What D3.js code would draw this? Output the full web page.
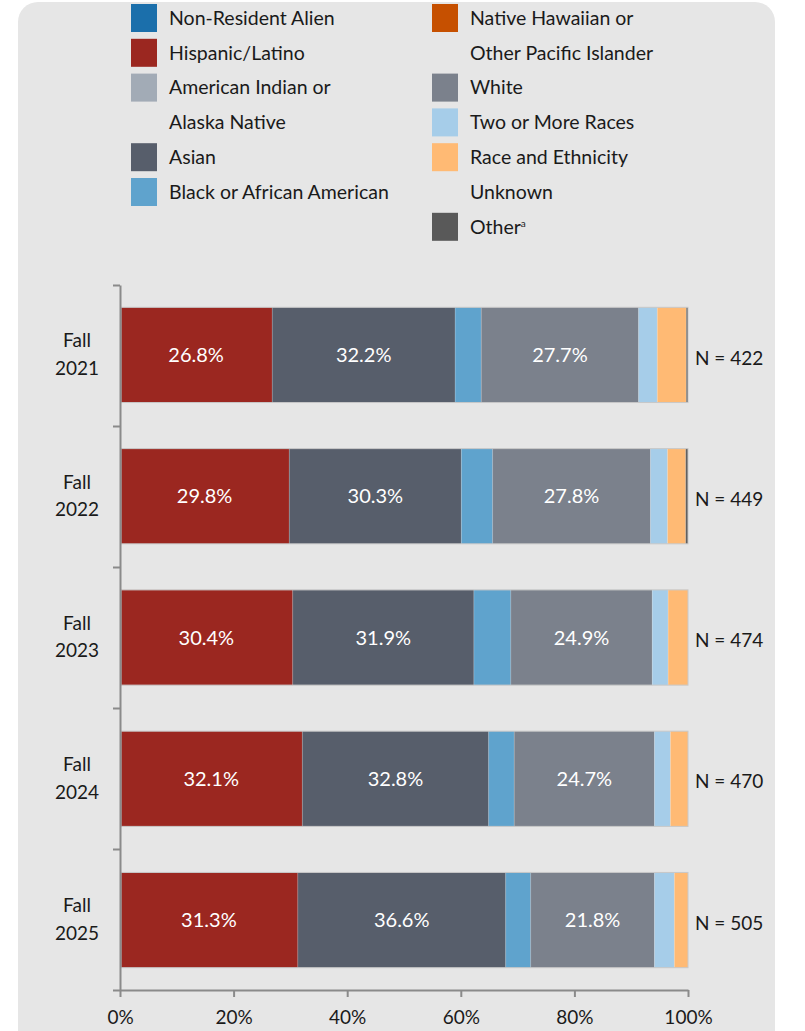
<!DOCTYPE html>
<html>
<head>
<meta charset="utf-8">
<script src="https://cdn.jsdelivr.net/npm/d3@7"></script>
<style>
  html, body { margin: 0; padding: 0; background: #ffffff; }
  svg { display: block; }
  text { font-family: Lato, "Noto Sans", sans-serif; }
</style>
</head>
<body>
<svg id="chart" width="805" height="1031"></svg>
<script>
// ---------- data ----------
const categories = ["Fall 2021", "Fall 2022", "Fall 2023", "Fall 2024", "Fall 2025"];
const nCounts = [422, 449, 474, 470, 505];

const seriesNames = [
  "Non-Resident Alien", "Hispanic/Latino", "American Indian or Alaska Native", "Asian",
  "Black or African American", "Native Hawaiian or Other Pacific Islander", "White",
  "Two or More Races", "Race and Ethnicity Unknown", "Other"
];
const legendLabels = [
  ["Non-Resident Alien"], ["Hispanic/Latino"], ["American Indian or", "Alaska Native"], ["Asian"],
  ["Black or African American"], ["Native Hawaiian or", "Other Pacific Islander"], ["White"],
  ["Two or More Races"], ["Race and Ethnicity", "Unknown"], ["Other"]
];
const seriesColors = [
  "#1b6fab", "#9b2720", "#a2abb6", "#575e6b", "#5fa3cd",
  "#c65000", "#7b818c", "#a6cde9", "#ffba74", "#595959"
];

const nonResident    = [0, 0, 0, 0, 0];
const hispanic       = [26.8, 29.8, 30.4, 32.1, 31.3];
const amIndian       = [0, 0, 0, 0, 0];
const asian          = [32.2, 30.3, 31.9, 32.8, 36.6];
const black          = [4.6, 5.5, 6.5, 4.5, 4.4];
const nativeHawaiian = [0, 0, 0, 0, 0];
const white          = [27.7, 27.8, 24.9, 24.7, 21.8];
const twoOrMore      = [3.3, 3.0, 2.8, 2.8, 3.5];
const unknownRace    = [5.1, 3.2, 3.5, 3.1, 2.4];
const other          = [0.3, 0.4, 0, 0, 0];

const seriesValues = [nonResident, hispanic, amIndian, asian, black,
  nativeHawaiian, white, twoOrMore, unknownRace, other];

const xTicks = [0, 20, 40, 60, 80, 100];

// ---------- build table ----------
const keys = seriesNames;
const table = categories.map((c, i) => {
  const row = { category: c, n: nCounts[i] };
  keys.forEach((k, j) => { row[k] = seriesValues[j][i]; });
  return row;
});
const stacked = d3.stack().keys(keys)(table);

// ---------- layout ----------
const svg = d3.select("#chart");
const FONT = "Lato, 'Noto Sans', sans-serif";

svg.append("rect")
  .attr("x", 18).attr("y", 2)
  .attr("width", 757).attr("height", 1080)
  .attr("rx", 20).attr("ry", 20)
  .attr("fill", "#e6e6e6");

const x = d3.scaleLinear().domain([0, 100]).range([120, 688]);
const y = d3.scaleBand().domain(categories).range([285, 990])
  .paddingInner(0.326).paddingOuter(0.158);

const color = d3.scaleOrdinal().domain(keys).range(seriesColors);
const bx = v => Math.max(x(v), x(0) + 1);

// bars
const layer = svg.append("g").selectAll("g")
  .data(stacked).join("g")
  .attr("fill", d => color(d.key));

layer.selectAll("rect")
  .data(d => d.map(v => Object.assign({}, v, { key: d.key })))
  .join("rect")
  .attr("x", d => bx(d[0]))
  .attr("y", d => y(d.data.category))
  .attr("width", d => Math.max(0, bx(d[1]) - bx(d[0])))
  .attr("height", y.bandwidth());

// segment separators
layer.selectAll("line.sep")
  .data(d => d.filter(v => v[1] - v[0] > 0 && v[0] > 0))
  .join("line")
  .attr("class", "sep")
  .attr("x1", d => x(d[0])).attr("x2", d => x(d[0]))
  .attr("y1", d => y(d.data.category))
  .attr("y2", d => y(d.data.category) + y.bandwidth())
  .attr("stroke", "#ffffff").attr("stroke-opacity", 0.25).attr("stroke-width", 0.8);

svg.append("g").selectAll("rect")
  .data(table).join("rect")
  .attr("x", x(0) + 1)
  .attr("y", d => y(d.category))
  .attr("width", x(100) - x(0) - 1)
  .attr("height", y.bandwidth())
  .attr("fill", "none")
  .attr("stroke", "#c8c8c8")
  .attr("stroke-width", 1);

// value labels
const labelKeys = ["Hispanic/Latino", "Asian", "White"];
svg.append("g").selectAll("text")
  .data(stacked.filter(s => labelKeys.includes(s.key)).flatMap(s => s))
  .join("text")
  .attr("x", d => (x(d[0]) + x(d[1])) / 2)
  .attr("y", d => y(d.data.category) + y.bandwidth() / 2)
  .attr("dy", "0.35em")
  .attr("text-anchor", "middle")
  .attr("fill", "#ffffff")
  .attr("font-size", 20)
  .text(d => (d[1] - d[0]).toFixed(1) + "%");

// N labels
svg.append("g").selectAll("text")
  .data(table).join("text")
  .attr("x", 695)
  .attr("y", d => y(d.category) + y.bandwidth() / 2 + 3)
  .attr("dy", "0.35em")
  .attr("fill", "#1a1a1a")
  .attr("font-size", 19)
  .text(d => "N = " + d.n);

// category labels (two lines)
const catG = svg.append("g").selectAll("text")
  .data(categories).join("text")
  .attr("x", 77)
  .attr("y", d => y(d) + y.bandwidth() / 2)
  .attr("text-anchor", "middle")
  .attr("fill", "#1a1a1a")
  .attr("font-size", 19);
catG.append("tspan").attr("x", 77).attr("dy", "-0.4em").text(d => d.split(" ")[0]);
catG.append("tspan").attr("x", 77).attr("dy", "1.45em").text(d => d.split(" ")[1]);

// y axis (category boundaries)
const yb = d3.scaleLinear().domain([0, categories.length]).range([285, 990]);
const yAxis = svg.append("g")
  .attr("transform", "translate(120,0)")
  .call(d3.axisLeft(yb).ticks(categories.length).tickFormat("").tickSize(7).tickSizeOuter(0));
yAxis.selectAll("path, line").attr("stroke", "#8a8a8a").attr("stroke-width", 2);

// x axis
const xAxis = svg.append("g")
  .attr("transform", "translate(0,990)")
  .call(d3.axisBottom(x).tickValues(xTicks).tickFormat(d => d + "%").tickSize(7).tickSizeOuter(0).tickPadding(14));
xAxis.selectAll("path, line").attr("stroke", "#8a8a8a").attr("stroke-width", 2);
xAxis.selectAll("text").attr("font-size", 19).attr("fill", "#1a1a1a")
  .attr("font-family", FONT);

// legend
const legendCols = [{ x: 131, start: 0, end: 5 }, { x: 432, start: 5, end: 10 }];
const rowStep = 34.8, rowY0 = 18;
const legend = svg.append("g");
legendCols.forEach(col => {
  let row = 0;
  for (let i = col.start; i < col.end; i++) {
    const cy = rowY0 + row * rowStep;
    legend.append("rect")
      .attr("x", col.x).attr("y", cy - 14)
      .attr("width", 26).attr("height", 28)
      .attr("fill", seriesColors[i]);
    legendLabels[i].forEach((line, li) => {
      const t = legend.append("text")
        .attr("x", col.x + 38)
        .attr("y", cy + li * rowStep)
        .attr("dy", "0.35em")
        .attr("fill", "#1a1a1a")
        .attr("font-size", 19.5)
        .text(line);
      if (seriesNames[i] === "Other") {
        t.append("tspan").attr("font-size", 10).attr("dy", "-0.7em").text("a");
      }
    });
    row += legendLabels[i].length;
  }
});
</script>
</body>
</html>
